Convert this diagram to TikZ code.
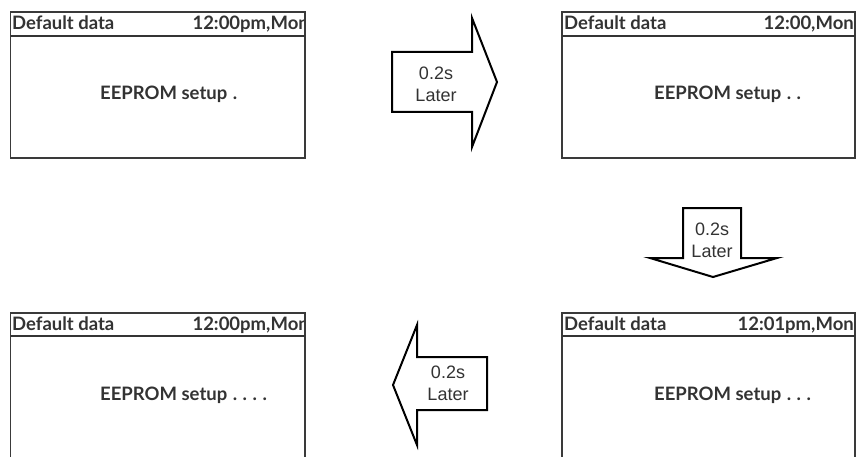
\documentclass[tikz,border=0pt]{standalone}
\usepackage{fontspec}
\setmainfont{Liberation Sans}
\newfontfamily\lcdfont{Lato}
\definecolor{ink}{HTML}{333333}
\definecolor{frame}{HTML}{3A3A3A}
\newcommand\dotgap{\hspace{5.5pt}}
\begin{document}
\begin{tikzpicture}[x=1pt,y=-1pt,
  screenframe/.style={draw=frame,line width=1.5pt},
  headline/.style={draw=frame!90!black,line width=2.4pt},
  lcdtext/.style={inner sep=0pt,text=ink,font=\lcdfont\bfseries\fontsize{18.5}{21}\selectfont},
  arrowshape/.style={draw=black,line width=2pt,fill=white,line join=miter},
  arrowtext/.style={inner sep=0pt,text=ink,align=center,font=\fontsize{18}{22}\selectfont}]
\useasboundingbox (0,0) rectangle (858,457);
% ---------- top-left screen
\begin{scope}
\clip (10.5,12) rectangle (305,158);
\node[lcdtext,anchor=base west] (tlh) at (12,30) {Default data};
\node[lcdtext,anchor=base east] (tlt) at (309,30) {12:00pm,Mon};
\node[lcdtext,anchor=base west] (tlm) at (100,100) {EEPROM setup\dotgap.};
\end{scope}
\draw[screenframe] (10.5,12) rectangle (305,158);
\draw[headline] (10.5,36) -- (305,36);
% ---------- top-right screen
\begin{scope}
\clip (562,12) rectangle (855,158);
\node[lcdtext,anchor=base west] (trh) at (564,30) {Default data};
\node[lcdtext,anchor=base east] (trt) at (854,30) {12:00,Mon};
\node[lcdtext,anchor=base west] (trm) at (654,100) {EEPROM setup\dotgap.\dotgap.};
\end{scope}
\draw[screenframe] (562,12) rectangle (855,158);
\draw[headline] (562,36) -- (855,36);
% ---------- bottom-left screen
\begin{scope}
\clip (10.5,313) rectangle (305,460);
\node[lcdtext,anchor=base west] (blh) at (12,330) {Default data};
\node[lcdtext,anchor=base east] (blt) at (309,330) {12:00pm,Mon};
\node[lcdtext,anchor=base west] (blm) at (100,400) {EEPROM setup\dotgap.\dotgap.\dotgap.\dotgap.};
\end{scope}
\draw[screenframe] (10.5,460) -- (10.5,313) -- (305,313) -- (305,460);
\draw[headline] (10.5,336) -- (305,336);
% ---------- bottom-right screen
\begin{scope}
\clip (562,313) rectangle (855,460);
\node[lcdtext,anchor=base west] (brh) at (564,330) {Default data};
\node[lcdtext,anchor=base east] (brt) at (854,330) {12:01pm,Mon};
\node[lcdtext,anchor=base west] (brm) at (654,400) {EEPROM setup\dotgap.\dotgap.\dotgap.};
\end{scope}
\draw[screenframe] (562,460) -- (562,313) -- (855,313) -- (855,460);
\draw[headline] (562,336) -- (855,336);
% ---------- arrows
\draw[arrowshape] (392,52) -- (472,52) -- (472,18) -- (497,82) -- (472,147) -- (472,112) -- (392,112) -- cycle;
\node[arrowtext] (a1) at (436,84) {0.2s\\Later};
\draw[arrowshape] (683,208) -- (741,208) -- (741,258) -- (777,258) -- (713,277) -- (650,258) -- (683,258) -- cycle;
\node[arrowtext] (a2) at (712,240) {0.2s\\Later};
\draw[arrowshape] (487,357) -- (487,410) -- (417,410) -- (417,445) -- (393,385) -- (417,325) -- (417,357) -- cycle;
\node[arrowtext] (a3) at (448,383) {0.2s\\Later};
\end{tikzpicture}
\end{document}
